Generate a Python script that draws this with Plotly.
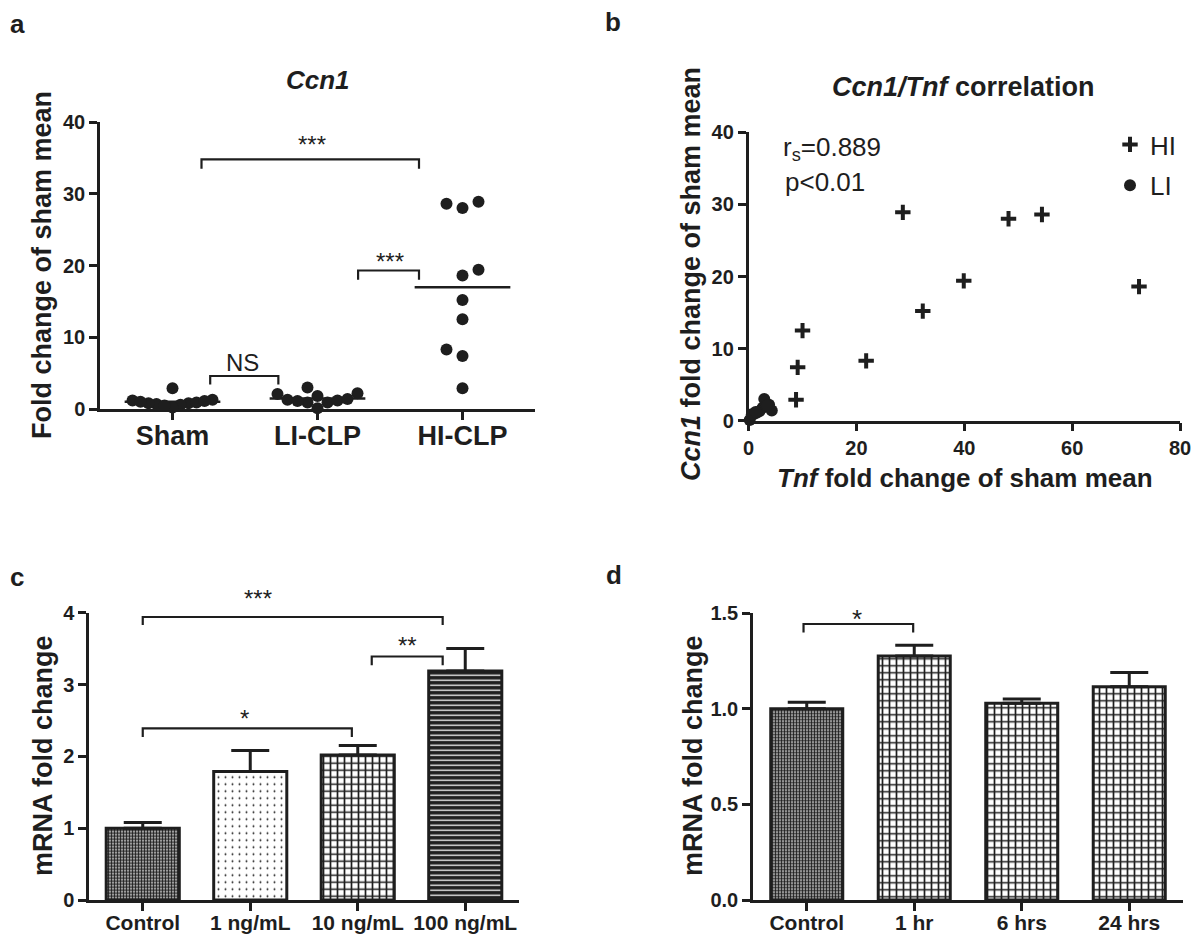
import numpy as np
import plotly.graph_objects as go

# ---------------- data ----------------
groups_a = ["Sham", "LI-CLP", "HI-CLP"]
sham_ccn1 = [1.3, 1.2, 0.8, 0.6, 2.9, 0.9, 0.2, 0.7, 1.1, 0.8, 1.0, 0.5]
li_ccn1 = [2.2, 1.8, 0.9, 3.0, 1.3, 0.1, 1.1, 0.9, 1.2, 1.4, 2.1]
hi_ccn1 = [28.9, 28.0, 28.6, 19.4, 18.6, 15.2, 8.3, 12.5, 7.4, 2.9]

li_tnf = [3.8, 2.6, 0.9, 2.9, 2.0, 0.2, 1.5, 0.6, 1.3, 4.3, 3.4]
hi_tnf = [28.6, 48.2, 54.4, 39.9, 72.4, 32.3, 21.8, 10.0, 9.1, 8.8]
corr_text = ["r<sub>s</sub>=0.889", "p<0.01"]

doses = ["Control", "1 ng/mL", "10 ng/mL", "100 ng/mL"]
dose_mean = [1.0, 1.79, 2.02, 3.19]
dose_sem = [0.08, 0.29, 0.13, 0.31]

times = ["Control", "1 hr", "6 hrs", "24 hrs"]
time_mean = [1.0, 1.277, 1.029, 1.116]
time_sem = [0.035, 0.056, 0.023, 0.074]

a_yticks = [0, 10, 20, 30, 40]
b_xticks = [0, 20, 40, 60, 80]
b_yticks = [0, 10, 20, 30, 40]
c_yticks = [0, 1, 2, 3, 4]
d_yticks = [0.0, 0.5, 1.0, 1.5]

# significance brackets: (x_start, x_end, y_bar, y_leg, label, label_x, label_y)
brackets_a = [
    (0.20, 1.70, 34.8, 33.5, "***", 0.96, 37.6),
    (1.28, 1.70, 19.3, 18.0, "***", 1.50, 21.3),
    (0.26, 0.73, 4.6, 3.4, "NS", 0.48, 6.5),
]
brackets_c = [
    (0.0, 2.79, 3.94, 3.83, "***", 1.07, 4.27),
    (2.13, 2.79, 3.39, 3.27, "**", 2.46, 3.62),
    (0.0, 1.945, 2.39, 2.27, "*", 0.95, 2.60),
]
brackets_d = [
    (-0.03, 0.99, 1.444, 1.40, "*", 0.47, 1.50),
]

# ---------------- layout / style ----------------
W, H = 1193, 935
INK = "#1e1e1e"
FONT = "Liberation Sans, Arial, Helvetica, sans-serif"


def fx(px):
    return px / W


def fy(py):
    return 1 - py / H


dom = {
    "a": dict(x=[fx(100), fx(535)], y=[fy(409), fy(122)]),
    "b": dict(x=[fx(748.6), fx(1180)], y=[fy(420.7), fy(132.3)]),
    "c": dict(x=[fx(89), fx(519)], y=[fy(900), fy(612.7)]),
    "d": dict(x=[fx(753), fx(1183)], y=[fy(900), fy(613.3)]),
}
ranges_y = {"y": (0, 40), "y3": (0, 4), "y4": (0, 1.5)}

# pixel scale of panel a (for dot spreading)
A_PX_X = (535 - 100) / 3.0
A_PX_Y = (409 - 122) / 40.0


def beeswarm(values, step_px=16.0, min_px=11.0, max_half_px=40.0):
    vals = np.asarray(values, dtype=float)
    order = np.argsort(vals, kind="stable")
    placed = []
    offs_px = np.zeros(len(vals))
    for i in order:
        yp = vals[i] * A_PX_Y
        chosen = None
        for k in range(0, 60):
            if k == 0:
                cands = [0]
            else:
                nl = sum(1 for xo, _ in placed if xo < 0)
                nr = sum(1 for xo, _ in placed if xo > 0)
                cands = [-k, k] if nl <= nr else [k, -k]
            for c in cands:
                xo = c * step_px
                if all((xo - qx) ** 2 + (yp - qy) ** 2 >= min_px ** 2 for qx, qy in placed):
                    chosen = xo
                    break
            if chosen is not None:
                break
        placed.append((chosen, yp))
        offs_px[i] = chosen
    widest = np.max(np.abs(offs_px))
    if widest > max_half_px:
        offs_px = offs_px * (max_half_px / widest)
    return offs_px / A_PX_X


fig = go.Figure()

# ---- panel a: dot plot ----
a_x, a_y = [], []
mean_x, mean_y = [], []
for gi, vals in enumerate([sham_ccn1, li_ccn1, hi_ccn1]):
    offs = beeswarm(vals)
    a_x.extend(list(gi + offs))
    a_y.extend(vals)
    m = float(np.mean(vals))
    mean_x.extend([gi - 0.33, gi + 0.33, None])
    mean_y.extend([m, m, None])

fig.add_trace(go.Scatter(x=mean_x, y=mean_y, mode="lines",
                         line=dict(color=INK, width=2.5),
                         xaxis="x", yaxis="y", showlegend=False, cliponaxis=False,
                         hoverinfo="skip"))
fig.add_trace(go.Scatter(x=a_x, y=a_y, mode="markers",
                         marker=dict(size=12, color=INK, line=dict(width=0)),
                         xaxis="x", yaxis="y", showlegend=False, cliponaxis=False))

# ---- panel b: correlation ----
fig.add_trace(go.Scatter(x=hi_tnf, y=hi_ccn1, mode="markers", name="HI",
                         marker=dict(symbol="cross-thin", size=11, color=INK,
                                     line=dict(color=INK, width=4)),
                         xaxis="x2", yaxis="y2", cliponaxis=False, legendgroup="hi"))
fig.add_trace(go.Scatter(x=li_tnf, y=li_ccn1, mode="markers", name="LI",
                         marker=dict(symbol="circle", size=12, color=INK, line=dict(width=0)),
                         xaxis="x2", yaxis="y2", cliponaxis=False, legendgroup="li"))


# ---- panel c / d: bars ----
def bar_trace(means, sems, shapes, sizes, solid, fgs, bgs, width, xa, ya):
    n = len(means)
    return go.Bar(
        x=list(range(n)), y=means, width=width,
        marker=dict(color="white", line=dict(color=INK, width=3),
                    pattern=dict(shape=shapes, size=sizes, solidity=solid,
                                 fgcolor=fgs, bgcolor=bgs, fillmode="replace")),
        error_y=dict(type="data", symmetric=False, array=sems, arrayminus=[0] * n,
                     color=INK, thickness=3, width=19),
        xaxis=xa, yaxis=ya, showlegend=False)


fig.add_trace(bar_trace(dose_mean, dose_sem,
                        [".", ".", "+", "-"], [3, 7, 7, 5], [0.7, 0.06, 0.43, 0.25],
                        [INK, INK, INK, "white"], ["white", "white", "white", INK],
                        0.68, "x3", "y3"))
fig.add_trace(bar_trace(time_mean, time_sem,
                        [".", "+", "+", "+"], [3, 7, 7, 7], [0.7, 0.43, 0.43, 0.43],
                        [INK] * 4, ["white"] * 4,
                        0.67, "x4", "y4"))


# ---- axes ----
def axis_common(**kw):
    d = dict(showline=True, linecolor=INK, linewidth=2.5, ticks="outside",
             ticklen=8, tickwidth=2.5, tickcolor=INK, showgrid=False, zeroline=False,
             automargin=False, tickangle=0,
             tickfont=dict(family=FONT, size=20, color=INK, weight="bold"))
    d.update(kw)
    return d


cat_font_a = dict(family=FONT, size=27, color=INK, weight="bold")
cat_font_cd = dict(family=FONT, size=21, color=INK, weight="bold")

fig.update_layout(
    xaxis=axis_common(domain=dom["a"]["x"], anchor="y", range=[-0.5, 2.5],
                      tickvals=list(range(len(groups_a))), ticktext=groups_a,
                      tickfont=cat_font_a, ticklabelstandoff=-7),
    yaxis=axis_common(domain=dom["a"]["y"], anchor="x", range=list(ranges_y["y"]),
                      tickvals=a_yticks),
    xaxis2=axis_common(domain=dom["b"]["x"], anchor="y2", range=[0, 80], tickvals=b_xticks),
    yaxis2=axis_common(domain=dom["b"]["y"], anchor="x2", range=[0, 40], tickvals=b_yticks),
    xaxis3=axis_common(domain=dom["c"]["x"], anchor="y3", range=[-0.5, 3.5],
                       tickvals=list(range(len(doses))), ticktext=doses, tickfont=cat_font_cd,
                       ticklabelstandoff=-6),
    yaxis3=axis_common(domain=dom["c"]["y"], anchor="x3", range=list(ranges_y["y3"]),
                       tickvals=c_yticks),
    xaxis4=axis_common(domain=dom["d"]["x"], anchor="y4", range=[-0.5, 3.5],
                       tickvals=list(range(len(times))), ticktext=times, tickfont=cat_font_cd,
                       ticklabelstandoff=-6),
    yaxis4=axis_common(domain=dom["d"]["y"], anchor="x4", range=list(ranges_y["y4"]),
                       tickvals=d_yticks, tickformat=".1f"),
)

# ---- brackets ----
shapes = []
annotations = []


def add_brackets(items, xr, yr, fs):
    r0, r1 = ranges_y[yr]
    for x0, x1, yb, yl, lab, lx, ly in items:
        shapes.append(dict(type="path", xref=xr, yref=yr,
                           path=f"M {x0},{yl} L {x0},{yb} L {x1},{yb} L {x1},{yl}",
                           line=dict(color=INK, width=2.2)))
        ys = -0.22 * fs if "*" in lab else 0
        annotations.append(dict(x=lx, y=(ly - r0) / (r1 - r0), xref=xr, yref=yr + " domain",
                                text=lab, showarrow=False,
                                xanchor="center", yanchor="middle", yshift=ys,
                                font=dict(family=FONT, size=fs, color=INK)))


add_brackets(brackets_a, "x", "y", 24)
add_brackets(brackets_c, "x3", "y3", 24)
add_brackets(brackets_d, "x4", "y4", 26)


def ptext(text, x, y, size, angle=0, bold=True, xanchor="center"):
    annotations.append(dict(x=fx(x), y=fy(y), xref="paper", yref="paper", text=text,
                            showarrow=False, xanchor=xanchor, yanchor="middle",
                            textangle=angle,
                            font=dict(family=FONT, size=size, color=INK,
                                      weight="bold" if bold else "normal")))


# panel letters
ptext("a", 17, 24, 26)
ptext("b", 613, 22, 26)
ptext("c", 17, 577, 26)
ptext("d", 614, 575, 26)

# titles
ptext("<i>Ccn1</i>", 318, 80, 26)
ptext("<i>Ccn1/Tnf</i> correlation", 963, 87, 27)

# axis titles
ptext("Fold change of sham mean", 42, 265, 27, angle=-90)
ptext("<i>Ccn1</i> fold change of sham mean", 691, 274, 27, angle=-90)
ptext("<i>Tnf</i> fold change of sham mean", 965, 478, 26)
ptext("mRNA fold change", 43, 756, 27, angle=-90)
ptext("mRNA fold change", 693, 756, 27, angle=-90)

# correlation statistics
ptext(corr_text[0], 781, 148, 26, bold=False, xanchor="left")
ptext(corr_text[1], 783, 182, 26, bold=False, xanchor="left")

fig.update_layout(
    width=W, height=H, autosize=False,
    margin=dict(l=0, r=0, t=0, b=0, pad=0),
    paper_bgcolor="white", plot_bgcolor="white",
    font=dict(family=FONT, color=INK),
    shapes=shapes, annotations=annotations,
    bargap=0.3,
    legend=dict(x=fx(1110), y=fy(121), xanchor="left", yanchor="top",
                font=dict(family=FONT, size=26, color=INK),
                bgcolor="rgba(0,0,0,0)", tracegroupgap=4, itemsizing="trace"),
)

fig.write_html("out.html", config={"displayModeBar": False},
               post_script="document.body.style.margin='0px';"
                           "document.body.style.overflow='hidden';")
